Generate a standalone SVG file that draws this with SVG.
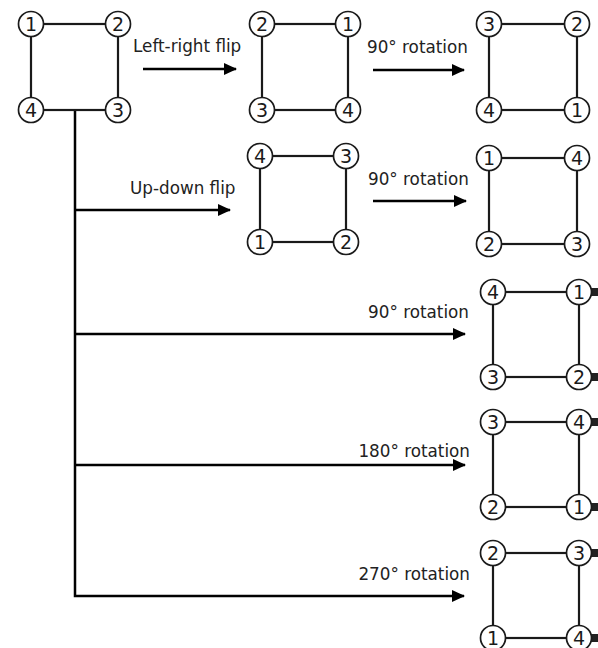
<svg xmlns="http://www.w3.org/2000/svg" width="598" height="648" viewBox="0 0 598 648">
<defs>
<style>
.edge{stroke:#1a1a1a;stroke-width:2.2;fill:none}
.conn{stroke:#000;stroke-width:2.5;fill:none}
.c{fill:#fff;stroke:#1a1a1a;stroke-width:1.7}
.n{font-family:"DejaVu Sans",Verdana,sans-serif;font-size:19px;text-anchor:middle;fill:#1a1a1a}
.lbl{font-family:"DejaVu Sans",Verdana,sans-serif;font-size:16.8px;fill:#222}
.stub{fill:#222}
</style>
<marker id="ah" viewBox="0 0 13 12" refX="12" refY="6" markerWidth="13" markerHeight="12" markerUnits="userSpaceOnUse" orient="auto">
<path d="M0,0 L13,6 L0,12 Z" fill="#000"/>
</marker>
</defs>
<rect width="598" height="648" fill="#fff"/>

<g id="connectors">
<path class="conn" d="M75,110 V596 H464" marker-end="url(#ah)"/>
<path class="conn" d="M75,210 H230" marker-end="url(#ah)"/>
<path class="conn" d="M75,334 H465" marker-end="url(#ah)"/>
<path class="conn" d="M75,465 H465" marker-end="url(#ah)"/>
<path class="conn" d="M143,69 H236" marker-end="url(#ah)"/>
<path class="conn" d="M373,70 H464" marker-end="url(#ah)"/>
<path class="conn" d="M373,201 H466" marker-end="url(#ah)"/>
<text class="lbl" x="133" y="52">Left-right flip</text>
<text class="lbl" x="367" y="53">90° rotation</text>
<text class="lbl" x="130" y="194">Up-down flip</text>
<text class="lbl" x="368" y="185">90° rotation</text>
<text class="lbl" x="469" y="318" text-anchor="end">90° rotation</text>
<text class="lbl" x="470" y="457" text-anchor="end">180° rotation</text>
<text class="lbl" x="470" y="580" text-anchor="end">270° rotation</text>
</g>

<g id="square-original">
<rect class="edge" x="31" y="24" width="87" height="86"/>
<circle class="c" cx="31" cy="24" r="12.5"/><text class="n" x="31" y="31">1</text>
<circle class="c" cx="118" cy="24" r="12.5"/><text class="n" x="118" y="31">2</text>
<circle class="c" cx="31" cy="110" r="12.5"/><text class="n" x="31" y="117">4</text>
<circle class="c" cx="118" cy="110" r="12.5"/><text class="n" x="118" y="117">3</text>
</g>

<g id="square-lr-flip">
<rect class="edge" x="262" y="24" width="86" height="86"/>
<circle class="c" cx="262" cy="24" r="12.5"/><text class="n" x="262" y="31">2</text>
<circle class="c" cx="348" cy="24" r="12.5"/><text class="n" x="348" y="31">1</text>
<circle class="c" cx="262" cy="110" r="12.5"/><text class="n" x="262" y="117">3</text>
<circle class="c" cx="348" cy="110" r="12.5"/><text class="n" x="348" y="117">4</text>
</g>

<g id="square-lr-rot90">
<rect class="edge" x="489" y="24" width="88" height="86"/>
<circle class="c" cx="489" cy="24" r="12.5"/><text class="n" x="489" y="31">3</text>
<circle class="c" cx="577" cy="24" r="12.5"/><text class="n" x="577" y="31">2</text>
<circle class="c" cx="489" cy="110" r="12.5"/><text class="n" x="489" y="117">4</text>
<circle class="c" cx="577" cy="110" r="12.5"/><text class="n" x="577" y="117">1</text>
</g>

<g id="square-ud-flip">
<rect class="edge" x="260" y="156" width="86" height="86"/>
<circle class="c" cx="260" cy="156" r="12.5"/><text class="n" x="260" y="163">4</text>
<circle class="c" cx="346" cy="156" r="12.5"/><text class="n" x="346" y="163">3</text>
<circle class="c" cx="260" cy="242" r="12.5"/><text class="n" x="260" y="249">1</text>
<circle class="c" cx="346" cy="242" r="12.5"/><text class="n" x="346" y="249">2</text>
</g>

<g id="square-ud-rot90">
<rect class="edge" x="489" y="158" width="88" height="86"/>
<circle class="c" cx="489" cy="158" r="12.5"/><text class="n" x="489" y="165">1</text>
<circle class="c" cx="577" cy="158" r="12.5"/><text class="n" x="577" y="165">4</text>
<circle class="c" cx="489" cy="244" r="12.5"/><text class="n" x="489" y="251">2</text>
<circle class="c" cx="577" cy="244" r="12.5"/><text class="n" x="577" y="251">3</text>
</g>

<g id="square-rot90">
<rect class="edge" x="493" y="292" width="86" height="85"/>
<rect class="stub" x="591" y="288" width="7" height="8"/>
<rect class="stub" x="591" y="373" width="7" height="8"/>
<circle class="c" cx="493" cy="292" r="12.5"/><text class="n" x="493" y="299">4</text>
<circle class="c" cx="579" cy="292" r="12.5"/><text class="n" x="579" y="299">1</text>
<circle class="c" cx="493" cy="377" r="12.5"/><text class="n" x="493" y="384">3</text>
<circle class="c" cx="579" cy="377" r="12.5"/><text class="n" x="579" y="384">2</text>
</g>

<g id="square-rot180">
<rect class="edge" x="493" y="422" width="86" height="85"/>
<rect class="stub" x="591" y="418" width="7" height="8"/>
<rect class="stub" x="591" y="503" width="7" height="8"/>
<circle class="c" cx="493" cy="422" r="12.5"/><text class="n" x="493" y="429">3</text>
<circle class="c" cx="579" cy="422" r="12.5"/><text class="n" x="579" y="429">4</text>
<circle class="c" cx="493" cy="507" r="12.5"/><text class="n" x="493" y="514">2</text>
<circle class="c" cx="579" cy="507" r="12.5"/><text class="n" x="579" y="514">1</text>
</g>

<g id="square-rot270">
<rect class="edge" x="493" y="553" width="86" height="85"/>
<rect class="stub" x="591" y="549" width="7" height="8"/>
<rect class="stub" x="591" y="634" width="7" height="8"/>
<circle class="c" cx="493" cy="553" r="12.5"/><text class="n" x="493" y="560">2</text>
<circle class="c" cx="579" cy="553" r="12.5"/><text class="n" x="579" y="560">3</text>
<circle class="c" cx="493" cy="638" r="12.5"/><text class="n" x="493" y="645">1</text>
<circle class="c" cx="579" cy="638" r="12.5"/><text class="n" x="579" y="645">4</text>
</g>
</svg>
